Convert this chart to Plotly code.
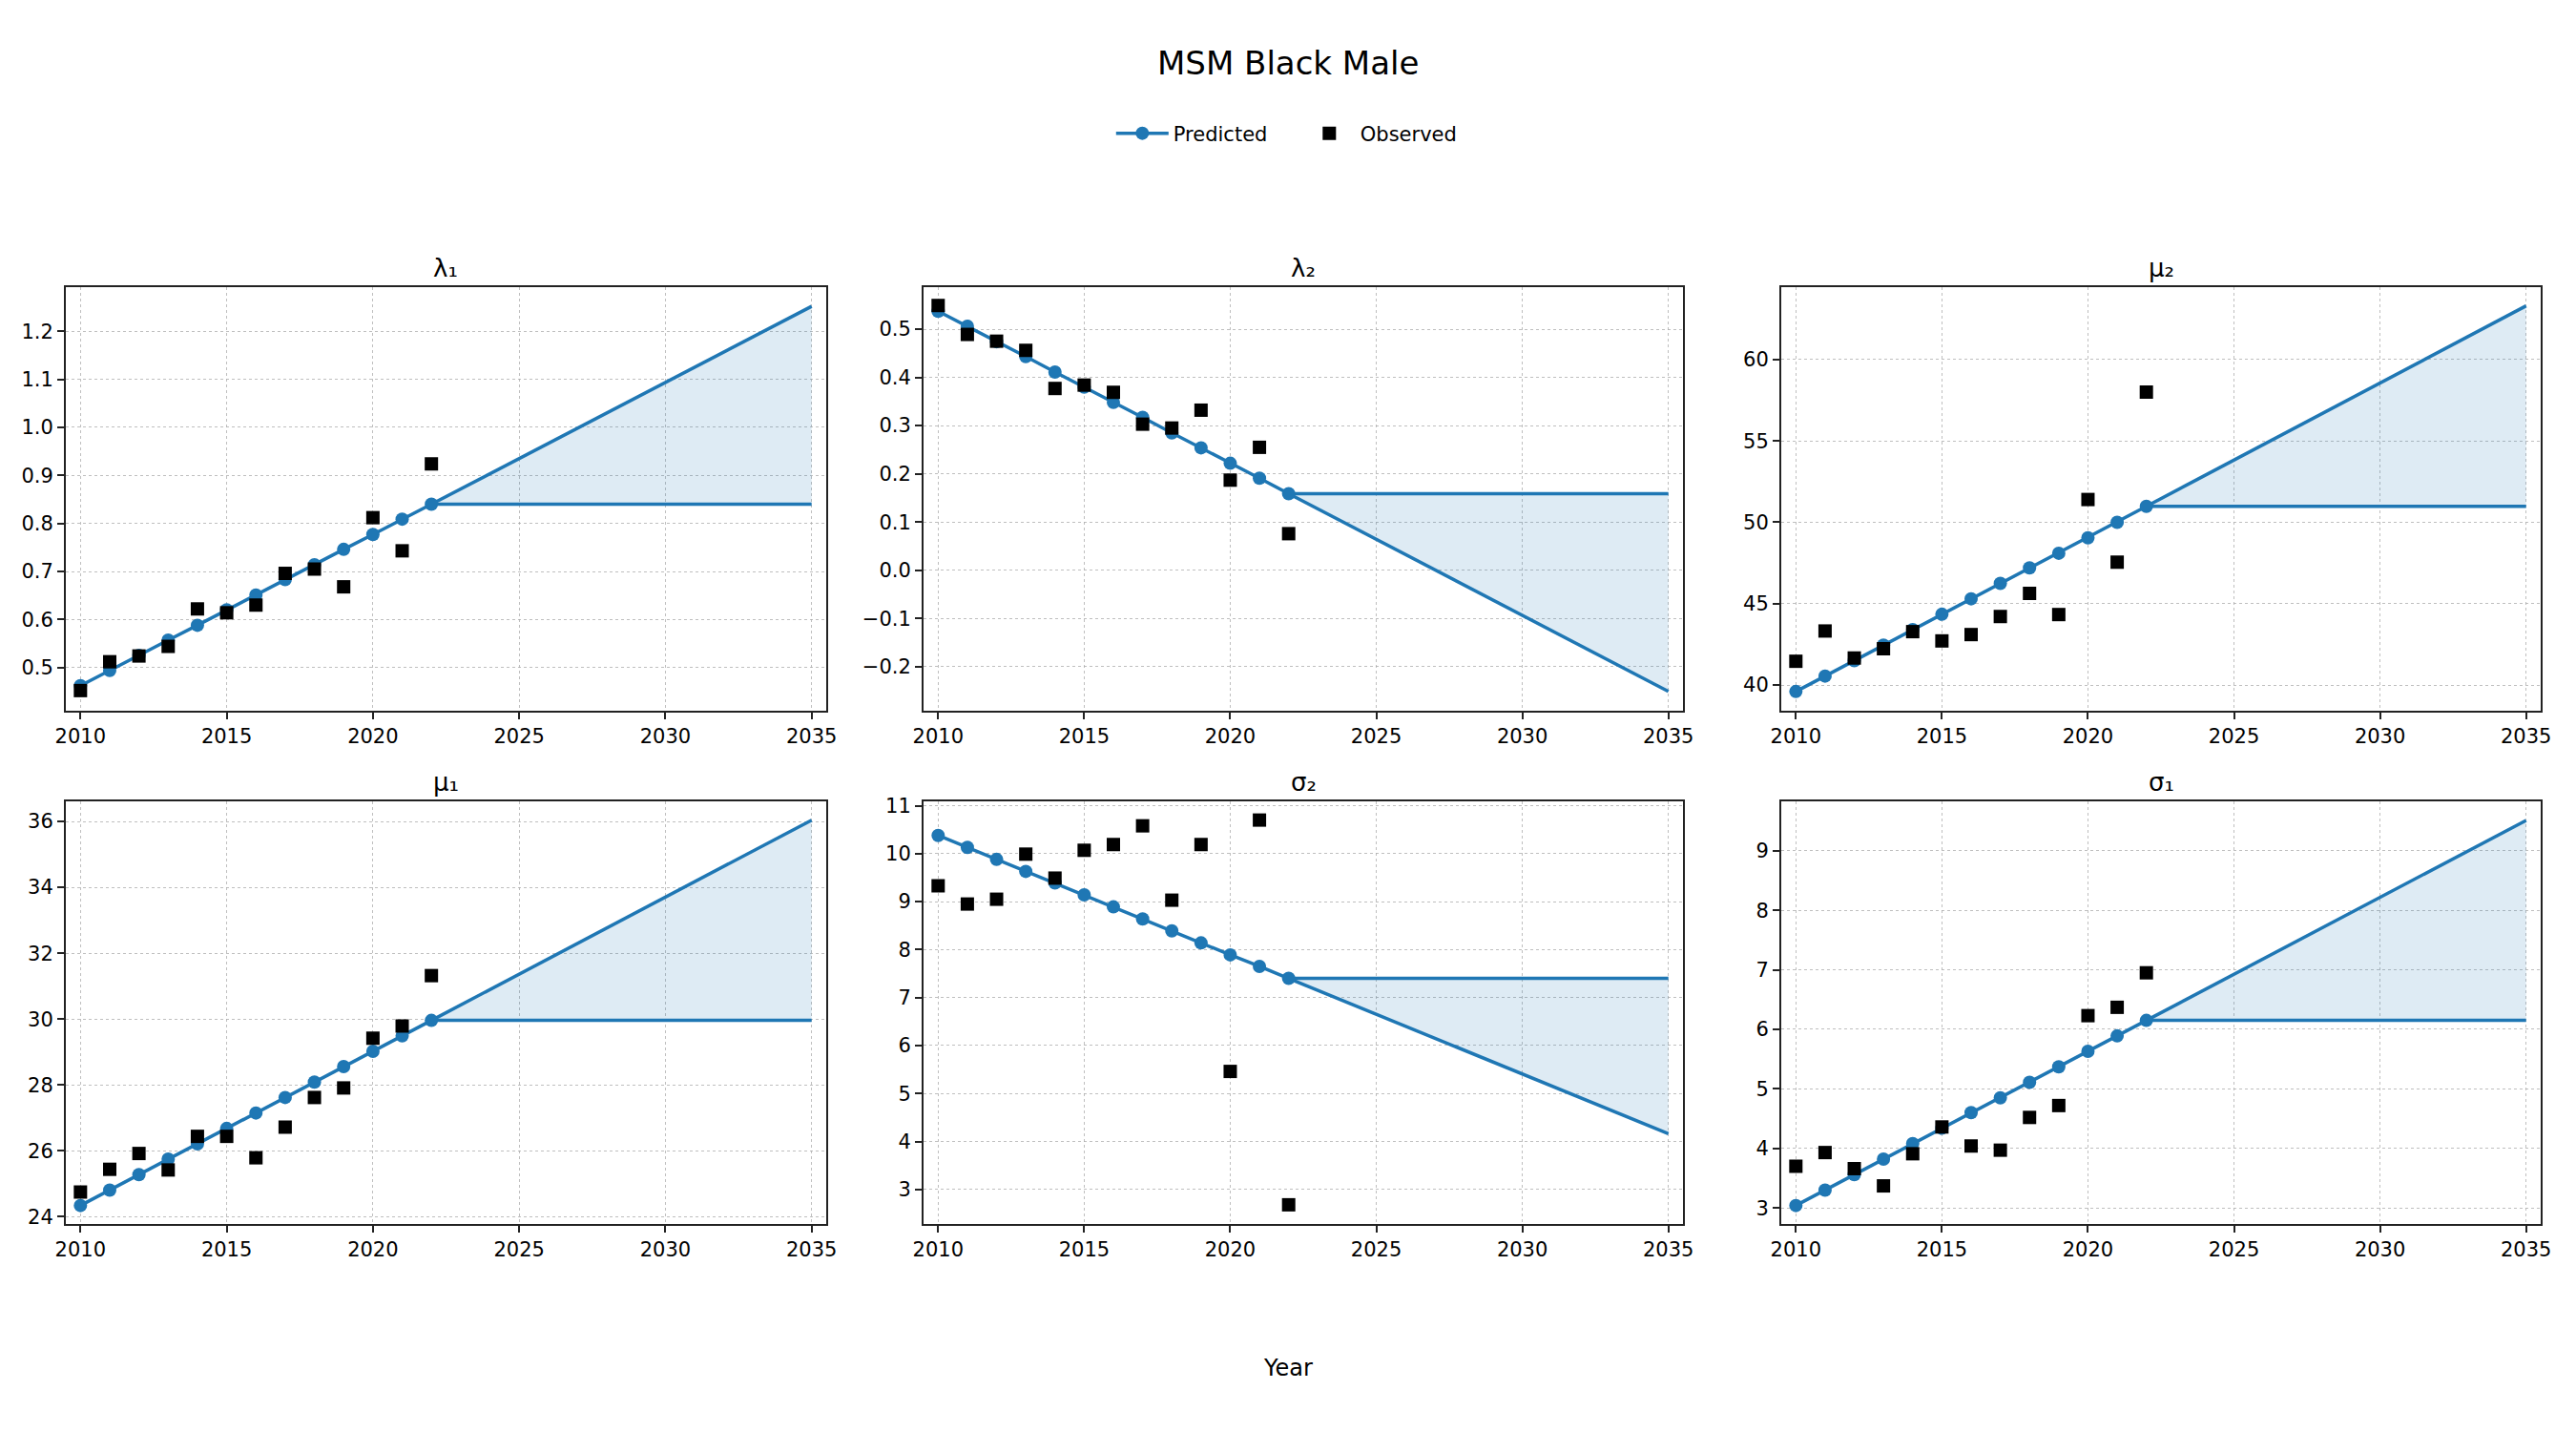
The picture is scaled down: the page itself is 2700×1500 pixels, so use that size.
import plotly.graph_objects as go

years = [2010, 2011, 2012, 2013, 2014, 2015, 2016, 2017, 2018, 2019, 2020, 2021, 2022]
forecast_years = [2022, 2035]

titles = ["λ₁", "λ₂", "μ₂", "μ₁", "σ₂", "σ₁"]

pred_lambda1 = [0.462, 0.494, 0.525, 0.557, 0.588, 0.620, 0.651, 0.683, 0.714, 0.746, 0.777, 0.809, 0.840]
obs_lambda1 = [0.452, 0.512, 0.524, 0.544, 0.622, 0.614, 0.630, 0.696, 0.705, 0.668, 0.812, 0.743, 0.924]
end_lambda1 = 1.252

pred_lambda2 = [0.537, 0.506, 0.474, 0.443, 0.411, 0.380, 0.348, 0.317, 0.285, 0.254, 0.222, 0.191, 0.159]
obs_lambda2 = [0.549, 0.489, 0.475, 0.456, 0.377, 0.384, 0.369, 0.303, 0.295, 0.332, 0.187, 0.255, 0.076]
end_lambda2 = -0.251

pred_mu2 = [39.6, 40.55, 41.5, 42.45, 43.4, 44.35, 45.3, 46.25, 47.2, 48.1, 49.05, 50.0, 50.98]
obs_mu2 = [41.46, 43.32, 41.66, 42.23, 43.28, 42.71, 43.1, 44.21, 45.63, 44.33, 51.40, 47.55, 58.0]
end_mu2 = 63.3

pred_mu1 = [24.34, 24.81, 25.28, 25.75, 26.21, 26.68, 27.15, 27.62, 28.09, 28.56, 29.02, 29.49, 29.96]
obs_mu1 = [24.75, 25.44, 25.92, 25.42, 26.44, 26.44, 25.79, 26.72, 27.62, 27.91, 29.42, 29.79, 31.32]
end_mu1 = 36.04

pred_sigma2 = [10.38, 10.13, 9.88, 9.63, 9.39, 9.14, 8.89, 8.64, 8.39, 8.14, 7.89, 7.65, 7.40]
obs_sigma2 = [9.33, 8.95, 9.05, 9.99, 9.49, 10.07, 10.19, 10.58, 9.03, 10.19, 5.46, 10.70, 2.68]
end_sigma2 = 4.16

pred_sigma1 = [3.04, 3.30, 3.56, 3.82, 4.08, 4.34, 4.60, 4.85, 5.11, 5.37, 5.63, 5.89, 6.15]
obs_sigma1 = [3.70, 3.93, 3.66, 3.37, 3.91, 4.36, 4.04, 3.97, 4.52, 4.72, 6.23, 6.37, 6.95]
end_sigma1 = 9.51

panels = [
    (pred_lambda1, obs_lambda1, end_lambda1, [0.410, 1.292], 0.1, ".1f"),
    (pred_lambda2, obs_lambda2, end_lambda2, [-0.291, 0.587], 0.1, ".1f"),
    (pred_mu2, obs_mu2, end_mu2, [38.42, 64.45], 5, "d"),
    (pred_mu1, obs_mu1, end_mu1, [23.78, 36.61], 2, "d"),
    (pred_sigma2, obs_sigma2, end_sigma2, [2.28, 11.09], 1, "d"),
    (pred_sigma1, obs_sigma1, end_sigma1, [2.73, 9.83], 1, "d"),
]

W, H = 2700, 1500
col_px = [(69, 866), (968, 1764), (1867, 2663)]
row_px = [(301, 745), (840, 1283)]

BLUE = "#1f77b4"
FONT = "DejaVu Sans"

fig = go.Figure()
annotations = []

for i, (pred, obs, end, yr, dt, fmt) in enumerate(panels):
    r, c = divmod(i, 3)
    n = i + 1
    xa = "x" if n == 1 else f"x{n}"
    ya = "y" if n == 1 else f"y{n}"
    x0, x1 = col_px[c]
    t0, t1 = row_px[r]
    fig.update_layout(**{
        ("xaxis" if n == 1 else f"xaxis{n}"): dict(
            domain=[x0 / W, x1 / W], anchor=ya, range=[2009.5, 2035.5],
            tickmode="linear", tick0=2010, dtick=5, automargin=False,
            showline=True, mirror=True, linecolor="#222", linewidth=2,
            ticks="outside", ticklen=7, tickwidth=1.5, tickcolor="#222",
            showgrid=True, gridcolor="rgba(170,170,170,0.75)", griddash="dot", gridwidth=1.2,
            zeroline=False, tickfont=dict(size=21, color="black", family=FONT),
        ),
        ("yaxis" if n == 1 else f"yaxis{n}"): dict(
            domain=[1 - t1 / H, 1 - t0 / H], anchor=xa, range=yr,
            tickmode="linear", tick0=0, dtick=dt, tickformat=fmt, automargin=False,
            showline=True, mirror=True, linecolor="#222", linewidth=2,
            ticks="outside", ticklen=7, tickwidth=1.5, tickcolor="#222",
            showgrid=True, gridcolor="rgba(170,170,170,0.75)", griddash="dot", gridwidth=1.2,
            zeroline=False, tickfont=dict(size=21, color="black", family=FONT),
        ),
    })
    # forecast band: flat line then trend line filled to it
    fig.add_trace(go.Scatter(
        x=forecast_years, y=[pred[-1], pred[-1]], mode="lines",
        line=dict(color=BLUE, width=3.5), showlegend=False, xaxis=xa, yaxis=ya,
        hoverinfo="skip"))
    fig.add_trace(go.Scatter(
        x=forecast_years, y=[pred[-1], end], mode="lines",
        line=dict(color=BLUE, width=3.5), fill="tonexty",
        fillcolor="rgba(31,119,180,0.15)", showlegend=False, xaxis=xa, yaxis=ya,
        hoverinfo="skip"))
    fig.add_trace(go.Scatter(
        x=years, y=pred, mode="lines+markers", name="Predicted",
        line=dict(color=BLUE, width=3.5), marker=dict(color=BLUE, size=14, symbol="circle"),
        showlegend=(i == 0), legendrank=1, xaxis=xa, yaxis=ya))
    fig.add_trace(go.Scatter(
        x=years, y=obs, mode="markers", name="Observed",
        marker=dict(color="black", size=14, symbol="square"),
        showlegend=(i == 0), legendrank=2, xaxis=xa, yaxis=ya))
    annotations.append(dict(
        text=titles[i], x=(x0 + x1) / 2 / W, y=1 - (t0 - 3) / H,
        xref="paper", yref="paper", xanchor="center", yanchor="bottom",
        showarrow=False, font=dict(size=26, color="black", family=FONT)))

annotations.append(dict(
    text="MSM Black Male", x=0.5, y=1 - 66 / H, xref="paper", yref="paper",
    xanchor="center", yanchor="middle", showarrow=False,
    font=dict(size=34, color="black", family=FONT)))
annotations.append(dict(
    text="Year", x=0.5, y=1 - 1434 / H, xref="paper", yref="paper",
    xanchor="center", yanchor="middle", showarrow=False,
    font=dict(size=24, color="black", family=FONT)))

fig.update_layout(
    width=W, height=H,
    margin=dict(l=0, r=0, t=0, b=0, autoexpand=False),
    paper_bgcolor="white", plot_bgcolor="white",
    font=dict(family=FONT, color="black"),
    annotations=annotations,
    legend=dict(
        orientation="h", x=0.504, y=1 - 140 / H, xanchor="center", yanchor="middle",
        font=dict(size=21, family=FONT, color="black"),
        itemwidth=55, traceorder="normal", entrywidth=126, entrywidthmode="pixels",
    ),
    showlegend=True,
)

fig.write_html("out.html")
